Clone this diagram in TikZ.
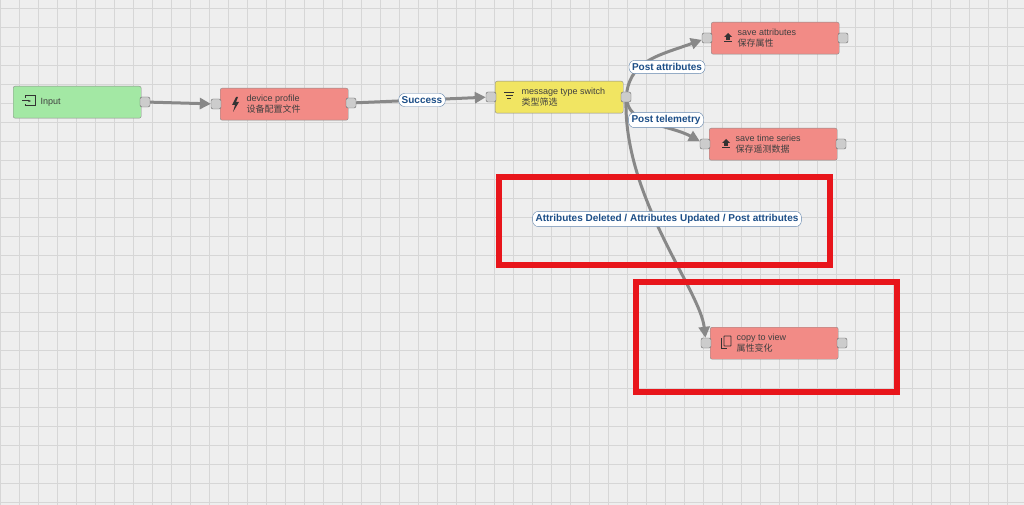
\documentclass[tikz,border=0pt]{standalone}
\usepackage{fontspec}
\setmainfont{Liberation Sans}
\newfontfamily\cjk{Noto Sans CJK SC}
\usetikzlibrary{arrows.meta}
\definecolor{gridbg}{HTML}{EEEEEE}
\definecolor{gridln}{HTML}{D6D6D6}
\definecolor{rulered}{HTML}{F28B86}
\definecolor{rulegreen}{HTML}{A3E8A4}
\definecolor{ruleyellow}{HTML}{F1E562}
\definecolor{labelblue}{HTML}{1C4E87}
\definecolor{linkgray}{HTML}{888888}
\definecolor{markred}{HTML}{E8151B}

\begin{document}
\begin{tikzpicture}[x=1pt, y=-1pt]
    % Define styles
    \tikzset{
        rulenode/.style={rectangle, draw=black!45, rounded corners=2pt, minimum width=128pt, minimum height=32pt, anchor=north west, inner sep=0pt},
        port/.style={rectangle, draw=black!60, fill=black!20, rounded corners=2pt, minimum size=10pt, inner sep=0pt},
        linklabel/.style={rectangle, draw=labelblue!70, fill=white, rounded corners=6pt, font=\bfseries\fontsize{10}{12}\selectfont, text=labelblue, inner sep=3pt},
        link/.style={draw=linkgray, line width=3pt, -{Triangle[length=11pt, width=11pt]}},
        nodetext/.style={anchor=west, align=left, font=\fontsize{9}{10.5}\selectfont, text=black!75},
        redmark/.style={draw=markred, line width=5.5pt}
    }
    \useasboundingbox (0,0) rectangle (1024,505);
    \fill[gridbg] (0,0) rectangle (1024,505);
    \foreach \gx in {0,19,...,1024}
        \draw [gridln, line width=0.7pt] (\gx,0) -- (\gx,505);
    \foreach \gy in {8,27,...,505}
        \draw [gridln, line width=0.7pt] (0,\gy) -- (1024,\gy);

    % Rule nodes
    \node [rulenode, fill=rulegreen] (input) at (13,86) {};
    \node [rulenode, fill=rulered] (profile) at (220,88) {};
    \node [rulenode, fill=ruleyellow] (switch) at (495,81) {};
    \node [rulenode, fill=rulered] (saveattr) at (711,22) {};
    \node [rulenode, fill=rulered] (savets) at (709,128) {};
    \node [rulenode, fill=rulered] (copyview) at (710,327) {};

    % Texts
    \node [nodetext] at ([xshift=24pt]input.west) {Input};
    \node [nodetext] at ([xshift=23pt]profile.west) {device profile\\{\cjk 设备配置文件}};
    \node [nodetext] at ([xshift=23pt]switch.west) {message type switch\\{\cjk 类型筛选}};
    \node [nodetext] at ([xshift=23pt]saveattr.west) {save attributes\\{\cjk 保存属性}};
    \node [nodetext] at ([xshift=23pt]savets.west) {save time series\\{\cjk 保存遥测数据}};
    \node [nodetext] at ([xshift=23pt]copyview.west) {copy to view\\{\cjk 属性变化}};

    % Icons
    \draw [black!80, line width=1pt] (25,98) -- (25,96) -- (35,96) -- (35,106) -- (25,106) -- (25,104);
    \draw [black!80, line width=1pt, -{Stealth[length=3pt]}] (22,101) -- (31,101);
    \fill [black!80] (236,97) -- (232,105) -- (235,105) -- (233,112) -- (239,102) -- (236,102) -- (238,97) -- cycle;
    \foreach \w/\yy in {5/93, 3.5/96, 2/99}
        \draw [black!80, line width=1pt] (509-\w,\yy) -- (509+\w,\yy);
    \foreach \xx/\yy in {728/38, 726/144}
    {
        \fill [black!80] (\xx-4,\yy-1) -- (\xx,\yy-5) -- (\xx+4,\yy-1) -- (\xx+1.8,\yy-1) -- (\xx+1.8,\yy+2) -- (\xx-1.8,\yy+2) -- (\xx-1.8,\yy-1) -- cycle;
        \draw [black!80, line width=1pt] (\xx-4,\yy+4) -- (\xx+4,\yy+4);
    }
    \draw [black!80, line width=0.8pt] (721,338) -- (721,348) -- (727,348);
    \draw [black!80, line width=0.8pt, rounded corners=0.5pt] (724,336) rectangle (731,346);

    % Ports
    \node [port] (inputout) at (145,102) {};
    \node [port] (profilein) at (216,104) {};
    \node [port] (profileout) at (351,103) {};
    \node [port] (switchin) at (491,97) {};
    \node [port] (switchout) at (626,97) {};
    \node [port] (saveattrin) at (707,38) {};
    \node [port] (saveattrout) at (843,38) {};
    \node [port] (savetsin) at (705,144) {};
    \node [port] (savetsout) at (841,144) {};
    \node [port] (copyviewin) at (706,343) {};
    \node [port] (copyviewout) at (842,343) {};

    % Links
    \draw [link] (inputout) -- (profilein);
    \draw [link] (profileout) -- (switchin);
    \draw [link] (switchout) .. controls (632,60) and (660,55) .. (saveattrin);
    \draw [link] (switchout) .. controls (632,125) and (670,125) .. (savetsin);
    \draw [link] (switchout) .. controls (625,200) and (700,290) .. (copyviewin);

    % Labels
    \node [linklabel] (success) at (422,100) {Success};
    \node [linklabel] (postattr) at (667,67) {Post attributes};
    \node [linklabel] (posttele) at (666,120) {Post telemetry};
    \node [linklabel] (deleted) at (667,219) {Attributes Deleted / Attributes Updated / Post attributes};

    % Highlight frames
    \draw [redmark] (499,177) rectangle (830,265);
    \draw [redmark] (636,282) rectangle (897,392);
\end{tikzpicture}
\end{document}
